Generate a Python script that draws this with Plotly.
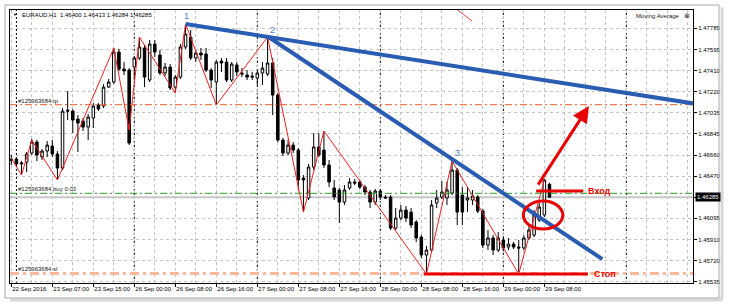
import plotly.graph_objects as go

# ---------------- data ----------------
symbol_header = "EURAUD,H1  1.46400 1.46413 1.46284 1.46285"

time_tick_index = [0, 8, 16, 24, 32, 40, 48, 56, 64, 72, 80, 88, 96, 104]
time_tick_text = ["22 Sep 2016", "23 Sep 07:00", "23 Sep 15:00", "26 Sep 00:00",
                  "26 Sep 08:00", "26 Sep 16:00", "27 Sep 00:00", "27 Sep 08:00",
                  "27 Sep 16:00", "28 Sep 00:00", "28 Sep 08:00", "28 Sep 16:00",
                  "29 Sep 00:00", "29 Sep 08:00"]
day_start_index = [1, 24, 48, 72, 96, 120]

price_tick_vals = [1.47785, 1.475975, 1.4741, 1.472225, 1.47035, 1.468475, 1.4666,
                   1.464725, 1.46285, 1.460975, 1.4591, 1.457225, 1.45535]
price_tick_text = ["1.47785", "1.47595", "1.47410", "1.47220", "1.47035", "1.46845",
                   "1.46660", "1.46470", "1.46285", "1.46095", "1.45910", "1.45720",
                   "1.45535"]

bar_open = [1.46624, 1.46624, 1.46580, 1.46597, 1.46677, 1.46775, 1.46642, 1.46695, 1.46740, 1.46669,
            1.46544, 1.47059, 1.47050, 1.46979, 1.46962, 1.46908, 1.46988, 1.47104, 1.47095, 1.47263,
            1.47308, 1.47574, 1.47423, 1.47414, 1.47441, 1.47521, 1.47610, 1.47326, 1.47645, 1.47548,
            1.47388, 1.47441, 1.47263, 1.47352, 1.47619, 1.47707, 1.47521, 1.47565, 1.47557, 1.47414,
            1.47308, 1.47494, 1.47485, 1.47326, 1.47459, 1.47388, 1.47370, 1.47361, 1.47343, 1.47388,
            1.47379, 1.47477, 1.47192, 1.46793, 1.46677, 1.46748, 1.46704, 1.46455, 1.46278, 1.46553,
            1.46731, 1.46704, 1.46571, 1.46367, 1.46349, 1.46242, 1.46367, 1.46420, 1.46420, 1.46375,
            1.46331, 1.46242, 1.46340, 1.46287, 1.46287, 1.46011, 1.46100, 1.46171, 1.46153, 1.46065,
            1.45931, 1.45772, 1.45816, 1.46233, 1.46287, 1.46278, 1.46322, 1.46526, 1.46304, 1.46260,
            1.46260, 1.46287, 1.46162, 1.45860, 1.45923, 1.45816, 1.45905, 1.45843, 1.45869, 1.45843,
            1.45834, 1.45923, 1.45949, 1.46082, 1.46127, 1.46400]
bar_high = [1.46660, 1.46642, 1.46606, 1.46686, 1.46802, 1.46793, 1.46713, 1.46784, 1.46793, 1.46695,
            1.47077, 1.47228, 1.47068, 1.47015, 1.46988, 1.47024, 1.47121, 1.47121, 1.47290, 1.47335,
            1.47610, 1.47601, 1.47485, 1.47432, 1.47539, 1.47707, 1.47636, 1.47681, 1.47681, 1.47592,
            1.47477, 1.47468, 1.47370, 1.47645, 1.47823, 1.47770, 1.47592, 1.47610, 1.47610, 1.47432,
            1.47503, 1.47521, 1.47521, 1.47485, 1.47485, 1.47432, 1.47414, 1.47397, 1.47414, 1.47485,
            1.47707, 1.47521, 1.47210, 1.46811, 1.46793, 1.46775, 1.46722, 1.46482, 1.46580, 1.46855,
            1.46855, 1.46873, 1.46615, 1.46438, 1.46367, 1.46393, 1.46455, 1.46447, 1.46438, 1.46393,
            1.46349, 1.46358, 1.46358, 1.46304, 1.46304, 1.46189, 1.46216, 1.46207, 1.46189, 1.46082,
            1.45949, 1.45852, 1.46260, 1.46349, 1.46429, 1.46420, 1.46606, 1.46544, 1.46375, 1.46375,
            1.46349, 1.46304, 1.46180, 1.45994, 1.45949, 1.45976, 1.45940, 1.45923, 1.45887, 1.45905,
            1.45949, 1.46029, 1.46171, 1.46233, 1.46447, 1.46413]
bar_low = [1.46571, 1.46571, 1.46491, 1.46509, 1.46660, 1.46606, 1.46615, 1.46642, 1.46642, 1.46438,
           1.46526, 1.46970, 1.46855, 1.46686, 1.46873, 1.46793, 1.46899, 1.47050, 1.47077, 1.47255,
           1.47290, 1.47406, 1.47370, 1.46748, 1.47326, 1.47503, 1.47263, 1.47308, 1.47530, 1.47370,
           1.47361, 1.47237, 1.47210, 1.47335, 1.47601, 1.47503, 1.47485, 1.47503, 1.47397, 1.47255,
           1.47104, 1.47397, 1.47308, 1.47308, 1.47361, 1.47352, 1.47326, 1.47326, 1.47281, 1.47281,
           1.47361, 1.47015, 1.46775, 1.46651, 1.46660, 1.46677, 1.46349, 1.46153, 1.46260, 1.46526,
           1.46642, 1.46544, 1.46375, 1.46260, 1.46056, 1.46216, 1.46349, 1.46393, 1.46358, 1.46304,
           1.46189, 1.46216, 1.46260, 1.46269, 1.45994, 1.45994, 1.46082, 1.46065, 1.46011, 1.45887,
           1.45745, 1.45603, 1.45798, 1.46189, 1.46269, 1.46216, 1.46304, 1.46038, 1.46038, 1.46153,
           1.46216, 1.46145, 1.45834, 1.45816, 1.45772, 1.45798, 1.45807, 1.45816, 1.45825, 1.45603,
           1.45816, 1.45905, 1.45931, 1.46065, 1.46109, 1.46284]
bar_close = [1.46615, 1.46580, 1.46589, 1.46669, 1.46775, 1.46660, 1.46695, 1.46748, 1.46669, 1.46544,
             1.47050, 1.47050, 1.46970, 1.46944, 1.46908, 1.46997, 1.47095, 1.47068, 1.47263, 1.47308,
             1.47574, 1.47423, 1.47406, 1.46766, 1.47521, 1.47619, 1.47352, 1.47645, 1.47574, 1.47388,
             1.47441, 1.47255, 1.47352, 1.47619, 1.47734, 1.47521, 1.47565, 1.47548, 1.47414, 1.47326,
             1.47485, 1.47477, 1.47326, 1.47468, 1.47397, 1.47379, 1.47352, 1.47352, 1.47388, 1.47432,
             1.47477, 1.47192, 1.46793, 1.46677, 1.46748, 1.46704, 1.46438, 1.46438, 1.46553, 1.46731,
             1.46660, 1.46571, 1.46420, 1.46287, 1.46242, 1.46349, 1.46420, 1.46411, 1.46375, 1.46331,
             1.46242, 1.46340, 1.46287, 1.46278, 1.46011, 1.46100, 1.46171, 1.46100, 1.46038, 1.45923,
             1.45772, 1.45816, 1.46216, 1.46278, 1.46331, 1.46349, 1.46526, 1.46153, 1.46153, 1.46278,
             1.46296, 1.46162, 1.45860, 1.45923, 1.45816, 1.45923, 1.45834, 1.45869, 1.45843, 1.45834,
             1.45923, 1.45994, 1.46127, 1.46198, 1.46438, 1.46285]

zigzag_index = [0, 2, 4, 9, 20, 23, 25, 32, 34, 40, 50, 57, 61, 81, 86, 99, 104]
zigzag_price = [1.46633, 1.46482, 1.46793, 1.46438, 1.47610, 1.46882, 1.47707, 1.47210, 1.47823,
                1.47104, 1.47707, 1.46153, 1.46873, 1.45603, 1.46606, 1.45603, 1.46438]

trend_a_index = [34, 135]
trend_a_price = [1.47823, 1.47104]
trend_b_index = [50.1, 115.3]
trend_b_price = [1.47710, 1.45736]
point_labels = ["1", "2", "3"]
point_label_index = [34.1, 50.9, 87.0]
point_label_price = [1.47894, 1.47770, 1.46675]

order_label = "#125963684"
tp_price = 1.47107
buy_price = 1.46320
sl_price = 1.45608
bid_price = 1.46285
bid_text = "1.46285"

arrow_index = [102.6, 112.7]
arrow_price = [1.46384, 1.47095]
entry_index = [102.4, 111.6]
entry_price = 1.46340
stop_index = [80.5, 112.5]
stop_price = 1.45603
circle_index = [99.9, 107.6]
circle_price = [1.46003, 1.46251]
top_mark_index = [86.0, 89.9]
top_mark_price = [1.47985, 1.47850]

# ---------------- figure ----------------
FONT = "Liberation Sans"
idx = list(range(len(bar_open)))
x_range = [-0.25, 133.0]
y_range = [1.455235, 1.479475]

fig = go.Figure()
fig.add_trace(go.Candlestick(
    x=idx, open=bar_open, high=bar_high, low=bar_low, close=bar_close,
    increasing=dict(line=dict(color="black", width=1), fillcolor="white"),
    decreasing=dict(line=dict(color="black", width=1), fillcolor="black"),
    whiskerwidth=0, showlegend=False, hoverinfo="skip"))
fig.add_trace(go.Scatter(x=zigzag_index, y=zigzag_price, mode="lines",
                         line=dict(color="#f02020", width=1), showlegend=False,
                         hoverinfo="skip"))

shapes = []
# day separators
for d in day_start_index:
    shapes.append(dict(type="line", xref="x", yref="paper", x0=d, x1=d, y0=0, y1=1,
                       line=dict(color="black", width=1, dash="2px,2px"), layer="below"))
# order lines
shapes.append(dict(type="line", xref="paper", yref="y", x0=0, x1=1, y0=bid_price, y1=bid_price,
                   line=dict(color="#c8c8c8", width=2), layer="below"))
shapes.append(dict(type="line", xref="paper", yref="y", x0=0, x1=1, y0=tp_price, y1=tp_price,
                   line=dict(color="#f06030", width=1, dash="7px,3px,2px,3px")))
shapes.append(dict(type="line", xref="paper", yref="y", x0=0, x1=1, y0=buy_price, y1=buy_price,
                   line=dict(color="#2a9a2a", width=1, dash="7px,3px,2px,3px")))
shapes.append(dict(type="line", xref="paper", yref="y", x0=0, x1=1, y0=sl_price, y1=sl_price,
                   line=dict(color="#ffb89c", width=3, dash="9px,4px,3px,4px")))
# trend lines
blue = "#2a5cb2"
shapes.append(dict(type="line", xref="x", yref="y", x0=trend_a_index[0], x1=trend_a_index[1],
                   y0=trend_a_price[0], y1=trend_a_price[1], line=dict(color=blue, width=4)))
shapes.append(dict(type="line", xref="x", yref="y", x0=trend_b_index[0], x1=trend_b_index[1],
                   y0=trend_b_price[0], y1=trend_b_price[1], line=dict(color=blue, width=4)))
# red marks
red = "#e80000"
shapes.append(dict(type="line", xref="x", yref="y", x0=entry_index[0], x1=entry_index[1],
                   y0=entry_price, y1=entry_price, line=dict(color=red, width=3)))
shapes.append(dict(type="line", xref="x", yref="y", x0=stop_index[0], x1=stop_index[1],
                   y0=stop_price, y1=stop_price, line=dict(color=red, width=3)))
shapes.append(dict(type="circle", xref="x", yref="y", x0=circle_index[0], x1=circle_index[1],
                   y0=circle_price[0], y1=circle_price[1], line=dict(color=red, width=3)))
shapes.append(dict(type="line", xref="x", yref="y", x0=top_mark_index[0], x1=top_mark_index[1],
                   y0=top_mark_price[0], y1=top_mark_price[1], line=dict(color="#f04040", width=1)))
# window frame + shadow
shapes.append(dict(type="line", xref="paper", yref="paper", x0=1.0425, x1=1.0425, y0=-0.062, y1=1.01,
                   line=dict(color="#d8d8d8", width=3)))
shapes.append(dict(type="line", xref="paper", yref="paper", x0=0.0, x1=1.0425, y0=-0.062, y1=-0.062,
                   line=dict(color="#d8d8d8", width=3)))
shapes.append(dict(type="rect", xref="paper", yref="paper", x0=-0.0073, x1=1.0381, y0=-0.0549, y1=1.0183,
                   line=dict(color="#a8a8a8", width=1)))

annotations = []
for t, xi, yp in zip(point_labels, point_label_index, point_label_price):
    annotations.append(dict(x=xi, y=yp, xref="x", yref="y", text=t, showarrow=False,
                            font=dict(family=FONT, size=9, color="#4a7cc9")))
annotations.append(dict(x=arrow_index[1], y=arrow_price[1], ax=arrow_index[0], ay=arrow_price[0],
                        xref="x", yref="y", axref="x", ayref="y", text="", showarrow=True,
                        arrowhead=2, arrowsize=1.1, arrowwidth=3, arrowcolor=red))
annotations.append(dict(x=entry_index[1] + 0.6, y=entry_price, xref="x", yref="y", text="<b>Вход</b>",
                        showarrow=False, xanchor="left", yanchor="middle",
                        font=dict(family=FONT, size=9, color=red)))
annotations.append(dict(x=stop_index[1] + 0.7, y=stop_price, xref="x", yref="y", text="<b>Стоп</b>",
                        showarrow=False, xanchor="left", yanchor="middle",
                        font=dict(family=FONT, size=9, color=red)))
small = dict(family=FONT, size=6, color="#202020")
annotations.append(dict(x=0.85, y=tp_price, xref="x", yref="y", text=order_label + " tp",
                        showarrow=False, xanchor="left", yanchor="bottom", yshift=-1, font=small))
annotations.append(dict(x=0.85, y=buy_price, xref="x", yref="y", text=order_label + " buy 0.03",
                        showarrow=False, xanchor="left", yanchor="bottom", yshift=-1, font=small))
annotations.append(dict(x=0.85, y=sl_price, xref="x", yref="y", text=order_label + " sl",
                        showarrow=False, xanchor="left", yanchor="bottom", yshift=-1, font=small))
annotations.append(dict(x=0.0146, y=0.982, xref="paper", yref="paper", text=symbol_header,
                        showarrow=False, xanchor="left", yanchor="middle",
                        font=dict(family=FONT, size=6, color="black")))
annotations.append(dict(x=0.0075, y=0.982, xref="paper", yref="paper", text="▼",
                        showarrow=False, xanchor="center", yanchor="middle",
                        font=dict(family=FONT, size=4, color="black")))
annotations.append(dict(x=0.984, y=0.978, xref="paper", yref="paper", text="Moving Average",
                        showarrow=False, xanchor="right", yanchor="middle",
                        font=dict(family=FONT, size=6, color="#202020")))
annotations.append(dict(x=0.9905, y=0.978, xref="paper", yref="paper", text="⊗",
                        showarrow=False, xanchor="center", yanchor="middle",
                        font=dict(family="DejaVu Sans", size=7, color="#202020")))
annotations.append(dict(x=1.0, y=bid_price, xref="paper", yref="y", text=bid_text,
                        showarrow=False, xanchor="left", yanchor="middle", xshift=2,
                        bgcolor="black", borderpad=1,
                        font=dict(family=FONT, size=6, color="white")))

grid_col = "#c4c4c4"
fig.update_layout(
    width=729, height=307,
    margin=dict(l=10, r=36, t=10, b=24, autoexpand=False),
    paper_bgcolor="white", plot_bgcolor="white",
    showlegend=False,
    shapes=shapes, annotations=annotations,
    font=dict(family=FONT, size=6, color="black"),
    xaxis=dict(range=x_range, rangeslider=dict(visible=False),
               tickmode="array", tickvals=time_tick_index, ticktext=time_tick_text,
               ticklabelposition="outside right", tickangle=0,
               ticks="outside", ticklen=3, tickcolor="black",
               showgrid=True, gridcolor=grid_col, griddash="3px,3px", gridwidth=1,
               minor=dict(dtick=4, tick0=0, showgrid=True, gridcolor=grid_col,
                          griddash="3px,3px", ticks=""),
               showline=True, linecolor="black", linewidth=1, mirror=True,
               zeroline=False, tickfont=dict(family=FONT, size=6, color="black")),
    yaxis=dict(range=y_range, side="right",
               tickmode="array", tickvals=price_tick_vals, ticktext=price_tick_text,
               ticks="outside", ticklen=3, tickcolor="black",
               showgrid=True, gridcolor=grid_col, griddash="3px,3px", gridwidth=1,
               showline=True, linecolor="black", linewidth=1, mirror=True,
               zeroline=False, tickfont=dict(family=FONT, size=6, color="black")),
)

fig.write_html("out.html")
